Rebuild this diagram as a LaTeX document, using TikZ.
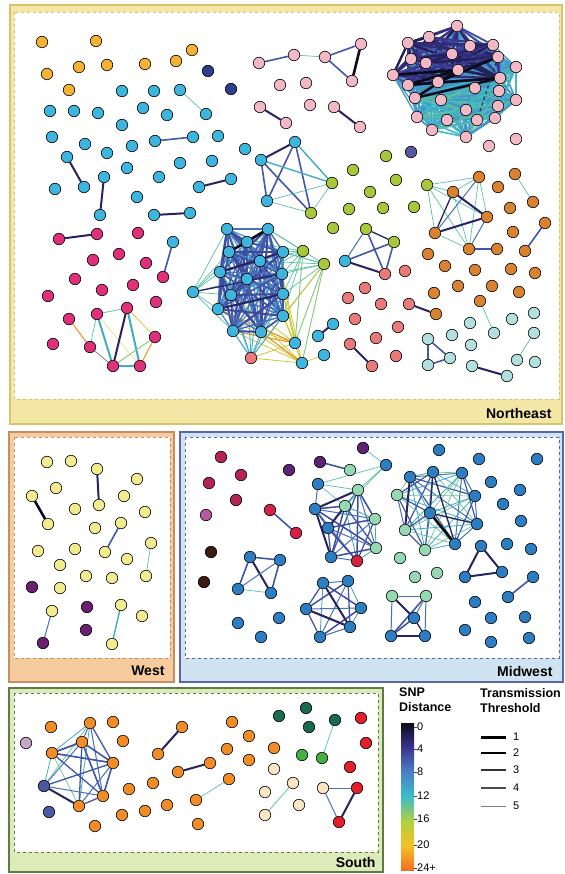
\documentclass[tikz,border=0pt]{standalone}
\usepackage{fontspec}
\setmainfont{Liberation Sans}
\pgfdeclarelayer{back}
\pgfdeclarelayer{edges}
\pgfsetlayers{back,edges,main}
\definecolor{s0}{HTML}{0B0B1A}
\definecolor{s4}{HTML}{3A3590}
\definecolor{s8}{HTML}{4A80C8}
\definecolor{s12}{HTML}{3CBCC8}
\definecolor{s16}{HTML}{B0D040}
\definecolor{s20}{HTML}{F5C028}
\definecolor{s24}{HTML}{F07020}
\colorlet{cnavy}{s4!60!s0}
\colorlet{cblue}{s8!45!s4}
\colorlet{clblue}{s8!80!s4}
\colorlet{cteal}{s12!75!s8}
\colorlet{clteal}{s12!75!s16}
\colorlet{cyel}{s16!50!s20}
\colorlet{corg}{s24!60!s20}
\definecolor{nOrg}{HTML}{F6B232}
\definecolor{nDB}{HTML}{2C3E8C}
\definecolor{nCy}{HTML}{3DB5DE}
\definecolor{nPk}{HTML}{F3B8C6}
\definecolor{nMg}{HTML}{E0307C}
\definecolor{nGr}{HTML}{A6C83A}
\definecolor{nBr}{HTML}{D9822F}
\definecolor{nSal}{HTML}{EA7A7A}
\definecolor{nLc}{HTML}{B2E0DE}
\definecolor{nPu}{HTML}{5A56A6}
\definecolor{nYe}{HTML}{F2EC8E}
\definecolor{nWp}{HTML}{6C1F70}
\definecolor{nCr}{HTML}{B32450}
\definecolor{nMa}{HTML}{B45A9E}
\definecolor{nBk}{HTML}{3C1A14}
\definecolor{nBl}{HTML}{2C7DC2}
\definecolor{nLg}{HTML}{95D8B2}
\definecolor{nRd}{HTML}{D42244}
\definecolor{nMp}{HTML}{5E2374}
\definecolor{nSo}{HTML}{F28C26}
\definecolor{nLv}{HTML}{C8A6C8}
\definecolor{nSb}{HTML}{4A5AA2}
\definecolor{nCm}{HTML}{F8E6C6}
\definecolor{nDg}{HTML}{196A50}
\definecolor{nGg}{HTML}{44B044}
\definecolor{nSr}{HTML}{E2202C}
\definecolor{neFill}{HTML}{F4E7A6}
\definecolor{neLine}{HTML}{D6C46C}
\definecolor{wFill}{HTML}{F6CB9E}
\definecolor{wLine}{HTML}{C68E62}
\definecolor{mFill}{HTML}{CFE3F0}
\definecolor{mLine}{HTML}{5A66A6}
\definecolor{sFill}{HTML}{DCEBB8}
\definecolor{sLine}{HTML}{5E7A4A}
\newcommand{\mypairs}[2]{%
  \foreach \a [count=\i] in {#2}{%
    \foreach \b [count=\j] in {#2}{%
      \ifnum\i<\j
        \pgfmathtruncatemacro\k{mod(\i*7+\j*3,4)}%
        \edef\curst{#1\k}%
        \expandafter\draw\expandafter[\curst] (\a)--(\b);
      \fi}}}
\newcommand{\mycross}[3]{\foreach \a in {#2}{\foreach \b in {#3}{\draw[#1] (\a)--(\b);}}}
\tikzset{
  nd/.style={circle,draw=black,line width=0.6pt,minimum size=11.5pt,inner sep=0pt,fill=#1},
  ek/.style={draw=s0,line width=2.6pt},
  en/.style={draw=cnavy,line width=2pt},
  enm/.style={draw=cnavy,line width=1.3pt},
  eb/.style={draw=cblue,line width=1.6pt},
  ebt/.style={draw=clblue,line width=1pt},
  et/.style={draw=cteal,line width=1.4pt},
  ett/.style={draw=clteal,line width=0.7pt},
  ey/.style={draw=cyel,line width=0.8pt},
  eo/.style={draw=corg,line width=1pt},
  eg/.style={draw=s16!60!s12,line width=0.9pt},
  bv0/.style={draw=cblue,line width=1.3pt},
  bv1/.style={draw=clblue,line width=1pt},
  bv2/.style={draw=s8!50!s12,line width=0.8pt},
  bv3/.style={draw=s4!70!s8,line width=1.5pt},
  cv0/.style={draw=cblue,line width=1.8pt},
  cv1/.style={draw=clblue,line width=1.4pt},
  cv2/.style={draw=s8!60!s12,line width=1.2pt},
  cv3/.style={draw=s4!75!s8,line width=2pt},
  mv0/.style={draw=clblue,line width=1pt},
  mv1/.style={draw=s12!70!s8,line width=0.8pt},
  mv2/.style={draw=cblue,line width=1.2pt},
  mv3/.style={draw=s12!60!s16,line width=0.7pt},
  sv0/.style={draw=s12!70!s8,line width=0.8pt},
  sv1/.style={draw=clblue,line width=1pt},
  sv2/.style={draw=s12!60!s16,line width=0.7pt},
  sv3/.style={draw=cblue,line width=1.3pt},
  pu0/.style={draw=s4!80!s0,line width=2.2pt},
  pu1/.style={draw=s4,line width=2pt},
  pu2/.style={draw=s4!70!s8,line width=1.8pt},
  pu3/.style={draw=s4!50!s0,line width=2.4pt},
  pl0/.style={draw=s12!80!s8,line width=1.8pt},
  pl1/.style={draw=s12,line width=1.6pt},
  pl2/.style={draw=s8!60!s12,line width=1.8pt},
  pl3/.style={draw=s12!70!s16,line width=1pt},
  pcross/.style={draw=s8!60!s12,line width=1.3pt},
  lab/.style={font=\fontsize{14}{16}\selectfont\bfseries},
  legt/.style={font=\fontsize{12.5}{15}\selectfont\bfseries,align=left,inner sep=0pt},
  tick/.style={font=\fontsize{11}{13}\selectfont,inner sep=1pt},
}
\begin{document}
\begin{tikzpicture}[x=1pt,y=-1pt,line cap=round]
\useasboundingbox (0,0) rectangle (564,874);
% ---------- panels
\begin{pgfonlayer}{back}
\fill[white] (0,0) rectangle (564,874);
\draw[fill=neFill,draw=neLine,line width=1.2pt] (10,5) rectangle (562,424);
\draw[fill=white,draw=neLine,dashed,line width=0.8pt] (14,12) rectangle (559,399);
\draw[fill=wFill,draw=wLine,line width=1.2pt] (9,432) rectangle (174,682);
\draw[fill=white,draw=wLine,dashed,line width=0.8pt] (14,437) rectangle (170,658);
\draw[fill=mFill,draw=mLine,line width=1.2pt] (180,432) rectangle (563,682);
\draw[fill=white,draw=mLine,dashed,line width=0.8pt] (185,437) rectangle (559,658);
\draw[fill=sFill,draw=sLine,line width=1.2pt] (9,688) rectangle (383,872);
\draw[fill=white,draw=sLine,dashed,line width=0.8pt] (14,693) rectangle (378,852);
\end{pgfonlayer}
\node[lab,anchor=east] (labNE) at (555,413) {Northeast};
\node[lab,anchor=east] (labW) at (168,671) {West};
\node[lab,anchor=east] (labM) at (556,671) {Midwest};
\node[lab,anchor=east] (labS) at (379,862) {South};
% ---------- Northeast nodes
\foreach \x/\y [count=\i] in {42/42,96/41,192/50,47/74,79/67,107/65,145/64,176/61,69/90}
  \node[nd=nOrg] (neo\i) at (\x,\y) {};
\foreach \x/\y [count=\i] in {208/71,231/89} \node[nd=nDB] (nedb\i) at (\x,\y) {};
\node[nd=nPu] (nepu) at (411,152) {};
\foreach \x/\y [count=\i] in {122/91,154/91,50/111,74/111,98/113,143/108,167/115,122/125,52/137,85/144,107/153,132/146,218/136,245/149,127/168,180/163,212/161,55/189,159/177,137/197}
  \node[nd=nCy] (necy\i) at (\x,\y) {};
\foreach \n/\x/\y in {ca1/180/90,ca2/206/114,cb1/155/141,cb2/193/137,cc1/67/157,cc2/84/187,cd1/104/177,cd2/100/215,ce1/199/187,ce2/231/179,cf1/154/215,cf2/190/213,cg1/173/242,pc1/295/142,pc2/261/160,pc3/267/201,ck/345/261,cx1/333/324,cx2/318/336,cx3/324/355,c1/227/229,c2/268/229,c3/247/242,c4/229/252,c5/283/252,c6/260/261,c7/220/272,c8/282/274,c9/247/279,c10/193/292,c11/231/295,c12/283/294,c13/218/309,c14/283/316,c15/233/331,c16/261/332,c17/295/343,c18/302/363}
  \node[nd=nCy] (\n) at (\x,\y) {};
\foreach \x/\y [count=\i] in {138/233,93/260,119/254,146/263,75/279,102/290,133/285,48/296,156/302,53/344}
  \node[nd=nMg] (nemg\i) at (\x,\y) {};
\foreach \n/\x/\y in {mh1/59/239,mh2/97/234,mg/163/277,ma/69/319,mb/97/314,mc/127/308,md/90/347,me/113/366,mf/140/366,mgg/155/337}
  \node[nd=nMg] (\n) at (\x,\y) {};
\foreach \x/\y [count=\i] in {280/85,306/83,310/105,489/146,516/139}
  \node[nd=nPk] (nepk\i) at (\x,\y) {};
\foreach \n/\x/\y in {pk1/259/63,pk2/294/55,pk3/325/57,pk4/361/44,pk5/352/81,pk6/260/107,pk7/286/123,pk8/334/107,pk9/360/127,p1/457/26,p2/429/37,p3/408/43,p4/470/46,p5/493/45,p6/411/59,p7/452/54,p8/426/63,p9/498/57,p10/393/75,p11/458/70,p12/516/67,p13/408/85,p14/438/82,p15/500/78,p16/475/88,p17/499/91,p18/415/98,p19/441/100,p20/498/106,p21/466/110,p22/417/117,p23/447/120,p24/477/120,p25/495/118,p26/432/130,p27/466/137,p28/516/100}
  \node[nd=nPk] (\n) at (\x,\y) {};
\foreach \x/\y [count=\i] in {386/156,353/170,396/180,370/192,349/209,383/208,414/207,333/228}
  \node[nd=nGr] (negr\i) at (\x,\y) {};
\foreach \n/\x/\y in {gq/427/185,gk1/366/229,gk2/394/242,g1/303/251,g2/324/264,pg1/332/183,pg2/311/213}
  \node[nd=nGr] (\n) at (\x,\y) {};
\foreach \n/\x/\y in {o1/453/192,o2/479/177,o3/487/217,o4/435/233,o5/469/249,o6/497/249,o7/515/174,o8/533/202,o9/545/223,o10/525/251,o11/480/301,o12/436/314}
  \node[nd=nBr] (\n) at (\x,\y) {};
\foreach \x/\y [count=\i] in {498/187,510/208,513/232,428/254,445/266,475/270,511/269,535/273,458/286,492/286,434/293,519/292}
  \node[nd=nBr] (nebr\i) at (\x,\y) {};
\foreach \n/\x/\y in {rk/385/274,r1/409/304,r2/350/344,r3/372/366,cs/251/358}
  \node[nd=nSal] (\n) at (\x,\y) {};
\foreach \x/\y [count=\i] in {405/271,365/288,348/298,381/304,355/319,398/327,376/338,396/356}
  \node[nd=nSal] (nesa\i) at (\x,\y) {};
\foreach \n/\x/\y in {lc1/494/333,lt1/428/339,lt2/450/358,lt3/428/365,lc2/534/333,lc3/517/360,lc4/472/366,lc5/507/376}
  \node[nd=nLc] (\n) at (\x,\y) {};
\foreach \x/\y [count=\i] in {534/313,512/319,470/323,452/335,471/345,535/362}
  \node[nd=nLc] (nelc\i) at (\x,\y) {};
% ---------- West nodes
\foreach \n/\x/\y in {w1/97/469,w2/99/505,w3/32/496,w4/48/524,w5/121/523,w6/105/552,w7/151/543,w8/146/576,w9/52/611,w11/121/605,w12/112/644}
  \node[nd=nYe] (\n) at (\x,\y) {};
\node[nd=nWp] (w10) at (43,643) {};
\foreach \x/\y [count=\i] in {47/462,71/461,56/488,137/479,75/509,124/496,145/512,95/528,38/551,75/549,60/565,127/559,86/576,112/578,60/588,142/616}
  \node[nd=nYe] (wy\i) at (\x,\y) {};
\foreach \x/\y [count=\i] in {32/587,87/607,86/630} \node[nd=nWp] (wp\i) at (\x,\y) {};
% ---------- Midwest nodes
\foreach \x/\y [count=\i] in {221/457,241/475,209/483,236/500} \node[nd=nCr] (mcr\i) at (\x,\y) {};
\node[nd=nMa] (mma) at (206,515) {};
\foreach \x/\y [count=\i] in {211/552,204/582} \node[nd=nBk] (mbk\i) at (\x,\y) {};
\node[nd=nMp] (mpi) at (289,470) {};
\foreach \n/\x/\y in {mp1/363/448,mp2/320/462} \node[nd=nMp] (\n) at (\x,\y) {};
\foreach \n/\x/\y in {rm1/270/510,rm2/296/533,a9/357/561} \node[nd=nRd] (\n) at (\x,\y) {};
\foreach \n/\x/\y in {mlg/350/470,a2/358/490,a3/345/506,a5/375/519,a7/376/548,b4/397/495,b8/405/530,b10/425/550,d1/392/596,d2/426/596}
  \node[nd=nLg] (\n) at (\x,\y) {};
\foreach \n/\x/\y in {mb0/386/465,a1/318/484,a4/315/509,a6/328/528,a8/331/557,b1/410/477,b2/433/472,b3/462/473,b5/475/496,b6/430/513,b7/477/524,b9/455/544,t1/481/546,t2/465/577,t3/502/572,u1/508/597,u2/533/577,h1/323/583,h2/348/581,h3/306/609,h4/361/608,h5/320/637,h6/350/627,d3/414/618,d4/391/636,d5/425/636,q1/250/557,q2/280/560,q3/238/589,q4/271/593}
  \node[nd=nBl] (\n) at (\x,\y) {};
\foreach \x/\y [count=\i] in {439/450,479/459,537/459,491/482,520/490,503/504,521/521,507/544,531/549,475/602,491/618,525/617,465/630,491/642,529/638,238/623,261/637,279/618}
  \node[nd=nBl] (mbl\i) at (\x,\y) {};
\foreach \x/\y [count=\i] in {400/558,415/577,437/573} \node[nd=nLg] (mlgi\i) at (\x,\y) {};
% ---------- South nodes
\foreach \x/\y [count=\i] in {51/727,113/722,123/741,129/789,122/815,145/811,153/783,167/805,95/826,198/824,232/722,249/736,227/749,249/760,274/748}
  \node[nd=nSo] (sor\i) at (\x,\y) {};
\foreach \n/\x/\y in {so1/182/727,so2/158/754,so3/178/772,so4/210/763,so5/196/800,so6/229/779,s1/90/723,s2/82/742,s3/52/753,s4/113/763,s6/103/796,s7/79/806}
  \node[nd=nSo] (\n) at (\x,\y) {};
\node[nd=nSb] (s5) at (44,786) {};
\node[nd=nSb] (ssb) at (49,812) {};
\node[nd=nLv] (slv) at (26,743) {};
\foreach \x/\y [count=\i] in {274/769,265/792,299/805} \node[nd=nCm] (scm\i) at (\x,\y) {};
\foreach \n/\x/\y in {sc1/293/783,sc2/265/815,tc/323/788} \node[nd=nCm] (\n) at (\x,\y) {};
\foreach \x/\y [count=\i] in {279/716,306/708,309/727} \node[nd=nDg] (sdgi\i) at (\x,\y) {};
\node[nd=nDg] (sdg) at (335,720) {};
\node[nd=nGg] (sg) at (322,758) {};
\node[nd=nGg] (sgi) at (302,755) {};
\foreach \x/\y [count=\i] in {361/718,366/743,350/767} \node[nd=nSr] (sri\i) at (\x,\y) {};
\foreach \n/\x/\y in {sr1/357/788,sr2/339/822} \node[nd=nSr] (\n) at (\x,\y) {};
% ---------- edges
\begin{pgfonlayer}{edges}
% Northeast simple
\draw[ett] (ca1)--(ca2);
\draw[eb] (cb1)--(cb2);
\draw[en] (cc1)--(cc2);
\draw[en] (cd1)--(cd2);
\draw[en] (ce1)--(ce2);
\draw[en] (cf1)--(cf2);
\draw[eb] (cg1)--(mg);
\draw[en] (mh1)--(mh2);
\draw[eb] (pk1)--(pk2);
\draw[ett] (pk2)--(pk3);
\draw[eb] (pk3)--(pk4);
\draw[ek] (pk4)--(pk5);
\draw[eb] (pk3)--(pk5);
\draw[en] (pk6)--(pk7);
\draw[en] (pk8)--(pk9);
% pentagon
\draw[en] (pc1)--(pc2);
\draw[eb] (pc2)--(pc3); \draw[eb] (pc1)--(pc3); \draw[eb] (pc2)--(pg2); \draw[eb] (pc1)--(pg2);
\draw[et] (pc2)--(pg1); \draw[et] (pc1)--(pg1);
\draw[ett] (pc3)--(pg1); \draw[ett] (pc3)--(pg2); \draw[ett] (pg1)--(pg2);
% K4
\draw[enm] (gk1)--(gk2); \draw[en] (ck)--(rk);
\draw[eb] (gk1)--(rk); \draw[eb] (gk2)--(ck); \draw[eb] (gk2)--(rk); \draw[ebt] (gk1)--(ck);
% magenta cluster
\draw[eo] (ma)--(md);
\draw[ett] (mb)--(mc);
\draw[et,line width=2pt] (mb)--(me);
\draw[ett] (mb)--(md);
\draw[ey,draw=cyel!50!white] (mb)--(mf);
\draw[en] (mc)--(me);
\draw[et,line width=2pt] (mc)--(mf);
\draw[ey] (mc)--(mgg);
\draw[draw=gray,line width=0.8pt] (md)--(me);
\draw[et,line width=2pt] (me)--(mf);
\draw[eg] (me)--(mgg);
\draw[eo] (mf)--(mgg);
% orange cluster
\foreach \b in {o1,o2,o3,o4,o5} \draw[ett] (gq)--(\b);
\draw[ett] (o2)--(o1); \draw[ett] (o2)--(o3); \draw[ett] (o2)--(o5); \draw[ett] (o1)--(o5);
\draw[ebt] (o3)--(o5); \draw[ett] (o4)--(o5); \draw[ebt] (o4)--(o2);
\draw[en] (o1)--(o3); \draw[en] (o4)--(o3); \draw[enm] (o1)--(o4);
\draw[eb] (o5)--(o6); \draw[ett] (o7)--(o8); \draw[eb] (o9)--(o10);
\draw[en] (o12)--(r1);
\draw[ett] (o11)--(lc1);
\draw[eb] (lt1)--(lt2); \draw[eb] (lt2)--(lt3); \draw[eb] (lt1)--(lt3);
\draw[ett] (lc2)--(lc3); \draw[en] (lc4)--(lc5);
\draw[en] (r2)--(r3); \draw[en] (cx1)--(cx2); \draw[ey] (c18)--(cx3);
% cyan cluster
\foreach \b in {c2,c5,c6,c8,c12,c14,c3,c9} {\draw[ett] (g1)--(\b); \draw[ett] (g2)--(\b);}
\foreach \b in {c14,c16,c12,c15,cs,c8,c11,c13} {\draw[ey] (c17)--(\b); \draw[ey] (c18)--(\b);}
\draw[eo] (c17)--(c15); \draw[eo] (c17)--(c13); \draw[eo] (c18)--(c16);
\draw[eg] (g2)--(c18); \draw[eg] (g2)--(c17); \draw[eg] (g1)--(c17); \draw[ey] (g2)--(cs);
\foreach \b in {c1,c3,c4,c7,c9,c11,c13,c15} \draw[ett] (c10)--(\b);
\foreach \b in {c7,c9,c11,c13,c15,c16,c14,c12,c6} \draw[et,line width=0.9pt] (cs)--(\b);
\mypairs{cv}{c1,c2,c3,c4,c5,c6,c7,c8,c9,c11,c12,c13,c14,c15,c16}
\draw[ek] (c2)--(c4); \draw[en] (c5)--(c7); \draw[en] (c12)--(c13); \draw[enm] (c8)--(c10);
% pink cluster
\mycross{pcross}{p1,p2,p3,p4,p5,p6,p7,p8,p9,p10,p11,p13,p14,p15}{p16,p17,p18,p19,p20,p21,p22,p23,p24,p25,p26,p27,p12,p28}
\mypairs{pl}{p16,p17,p18,p19,p20,p21,p22,p23,p24,p25,p26,p27,p12,p28}
\mypairs{pu}{p1,p2,p3,p4,p5,p6,p7,p8,p9,p10,p11,p13,p14,p15}
\draw[ek] (p10)--(p11); \draw[ek] (p13)--(p15); \draw[ek] (p14)--(p9);
\draw[ek] (p18)--(p11); \draw[ek] (p13)--(p11); \draw[ek] (p18)--(p15);
\draw[dashed,draw=s12!30!black,line width=1.2pt] (p9)--(p24);
% West
\draw[en] (w1)--(w2); \draw[ek] (w3)--(w4); \draw[eb] (w5)--(w6);
\draw[ett] (w7)--(w8); \draw[ebt] (w9)--(w10); \draw[et] (w11)--(w12);
% Midwest
\draw[ett] (mp1)--(mb0);
\draw[eb] (mp2)--(mlg);
\foreach \b in {a1,a2,a3} \draw[ett] (mb0)--(\b);
\draw[ett] (a1)--(a2); \draw[ett] (a1)--(a3); \draw[ebt] (a1)--(a4);
\mypairs{bv}{a2,a3,a4,a5,a6,a7,a8,a9}
\draw[en] (a4)--(a2); \draw[en] (a4)--(a8); \draw[en] (a6)--(a3);
\mypairs{mv}{b1,b2,b3,b4,b5,b6,b7,b8,b9,b10}
\draw[ek] (b6)--(b9); \draw[en] (b1)--(b8); \draw[enm] (b2)--(b9); \draw[enm] (b6)--(b7); \draw[enm] (b2)--(b6);
\draw[en] (t1)--(t2); \draw[en] (t2)--(t3); \draw[en] (t1)--(t3);
\draw[eb] (u1)--(u2);
\mypairs{bv}{h1,h2,h3,h4,h5,h6}
\draw[en] (h1)--(h6); \draw[en] (h3)--(h6);
\draw[ebt] (d1)--(d2); \draw[ebt] (d1)--(d4); \draw[ebt] (d2)--(d5); \draw[en] (d4)--(d5);
\draw[en] (d1)--(d3); \draw[enm] (d3)--(d5); \draw[eb] (d2)--(d4); \draw[eb] (d3)--(d4); \draw[ebt] (d2)--(d3);
\draw[eb] (q1)--(q2); \draw[eb] (q1)--(q3); \draw[en] (q1)--(q4); \draw[ebt] (q2)--(q3); \draw[eb] (q2)--(q4); \draw[ett] (q3)--(q4);
\draw[eb] (rm1)--(rm2);
% South
\mypairs{sv}{s1,s2,s3,s4,s5,s6,s7}
\draw[eb] (s3)--(s2); \draw[eb] (s3)--(s4); \draw[eb] (s2)--(s4); \draw[eb] (s2)--(s6);
\draw[en] (s5)--(s7); \draw[eb] (s4)--(s6);
\draw[en] (so1)--(so2); \draw[en] (so3)--(so4); \draw[ett] (so5)--(so6);
\draw[ett] (sc1)--(sc2); \draw[ett] (sdg)--(sg);
\draw[ebt] (tc)--(sr1); \draw[ebt] (tc)--(sr2); \draw[en] (sr1)--(sr2);
\end{pgfonlayer}
% ---------- legend
\node[legt,anchor=north west] (snpT) at (399,688) {SNP\\Distance};
\node[legt,anchor=north west] (trT) at (480,688) {Transmission\\Threshold};
\shade[top color=s0,bottom color=s4] (401,723) rectangle (414,747.5);
\shade[top color=s4,bottom color=s8] (401,747.5) rectangle (414,772);
\shade[top color=s8,bottom color=s12] (401,772) rectangle (414,796.5);
\shade[top color=s12,bottom color=s16] (401,796.5) rectangle (414,821);
\shade[top color=s16,bottom color=s20] (401,821) rectangle (414,845.5);
\shade[top color=s20,bottom color=s24] (401,845.5) rectangle (414,870);
\foreach \v/\yy [count=\i] in {0/727,4/749,8/772,12/796,16/819,20/845,24+/868} {
  \draw[line width=0.5pt,draw=black!70] (414,\yy)--(417,\yy);
  \node[tick,anchor=west] (tk\i) at (416,\yy) {\v};
}
\foreach \v/\yy/\w/\c in {1/737/3pt/black,2/753/2.3pt/black,3/770/1.7pt/black!80,4/788/1.2pt/black!70,5/806/0.8pt/black!50} {
  \draw[line width=\w,draw=\c,line cap=butt] (481,\yy)--(506,\yy);
  \node[tick,anchor=west] (th\v) at (512,\yy) {\v};
}
\end{tikzpicture}
\end{document}
